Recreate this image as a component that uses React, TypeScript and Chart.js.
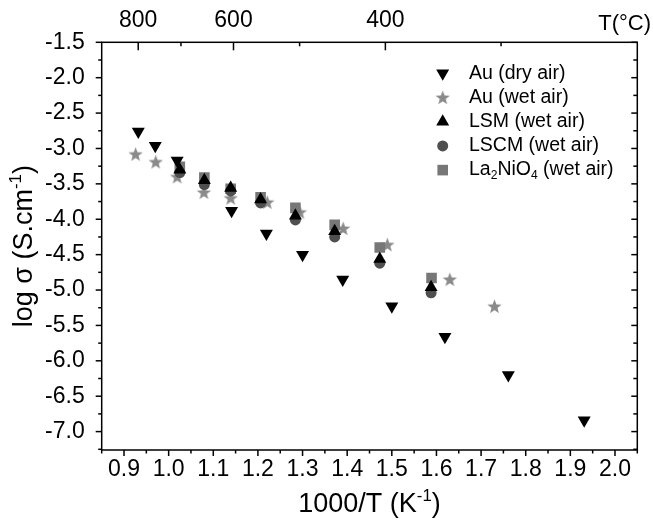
import React, { useEffect, useRef } from 'react';
import { Chart, registerables } from 'chart.js';
Chart.register(...registerables);

// ---- data ----
const auDryX = [0.932, 0.970, 1.019, 1.141, 1.219, 1.300, 1.390, 1.500, 1.619, 1.761, 1.931];
const auDryY = [-2.76, -2.96, -3.17, -3.88, -4.20, -4.50, -4.85, -5.23, -5.66, -6.20, -6.84];
const auWetX = [0.926, 0.971, 1.019, 1.079, 1.139, 1.221, 1.294, 1.391, 1.490, 1.630, 1.730];
const auWetY = [-3.08, -3.19, -3.40, -3.62, -3.70, -3.76, -3.90, -4.13, -4.36, -4.85, -5.23];
const lsmX = [1.025, 1.080, 1.139, 1.206, 1.284, 1.372, 1.473, 1.588];
const lsmY = [-3.30, -3.45, -3.56, -3.72, -3.95, -4.17, -4.56, -4.96];
const lscmX = [1.025, 1.080, 1.139, 1.206, 1.284, 1.372, 1.473, 1.588];
const lscmY = [-3.34, -3.51, -3.60, -3.77, -4.01, -4.25, -4.62, -5.04];
const lanoX = [1.025, 1.080, 1.139, 1.206, 1.284, 1.372, 1.473, 1.589];
const lanoY = [-3.26, -3.41, -3.57, -3.69, -3.84, -4.08, -4.40, -4.83];

// ---- ticks ----
const X_MAJOR = [0.9, 1.0, 1.1, 1.2, 1.3, 1.4, 1.5, 1.6, 1.7, 1.8, 1.9, 2.0];
const X_MINOR = [0.85, 0.95, 1.05, 1.15, 1.25, 1.35, 1.45, 1.55, 1.65, 1.75, 1.85, 1.95, 2.05];
const Y_MAJOR = [-1.5, -2.0, -2.5, -3.0, -3.5, -4.0, -4.5, -5.0, -5.5, -6.0, -6.5, -7.0];
const Y_MINOR = [-1.75, -2.25, -2.75, -3.25, -3.75, -4.25, -4.75, -5.25, -5.75, -6.25, -6.75, -7.25];
const T_MAJOR = [800, 600, 400];
const T_MINOR = [700, 500, 300];

const X_MIN = 0.85, X_MAX = 2.05, Y_MIN = -7.26, Y_MAX = -1.5;
const FONT = '"Liberation Sans", Arial, Helvetica, sans-serif';
const toInvT = (t: number) => 1000 / (t + 273.15);

const STAR_COLOR = '#8a8a8a';
const SQUARE_COLOR = '#777777';
const CIRCLE_COLOR = '#4f4f4f';

function makeStar(color: string, outer: number) {
  const size = Math.ceil(outer * 2 + 2);
  const c = document.createElement('canvas');
  c.width = size; c.height = size;
  const g = c.getContext('2d')!;
  const cx = size / 2, cy = size / 2 + 0.6;
  const inner = outer * 0.42;
  g.beginPath();
  for (let i = 0; i < 10; i++) {
    const r = i % 2 === 0 ? outer : inner;
    const a = -Math.PI / 2 + (i * Math.PI) / 5;
    const px = cx + r * Math.cos(a), py = cy + r * Math.sin(a);
    if (i === 0) g.moveTo(px, py); else g.lineTo(px, py);
  }
  g.closePath();
  g.fillStyle = color;
  g.fill();
  return c;
}

type Seg = { t: string; sub?: boolean; sup?: boolean };
function drawRich(ctx: CanvasRenderingContext2D, segs: Seg[], x: number, y: number, size: number, align: 'left' | 'center' | 'right') {
  const small = size * 0.62;
  let total = 0;
  for (const s of segs) {
    ctx.font = `${s.sub || s.sup ? small : size}px ${FONT}`;
    total += ctx.measureText(s.t).width;
  }
  let cx = align === 'left' ? x : align === 'center' ? x - total / 2 : x - total;
  ctx.textAlign = 'left';
  for (const s of segs) {
    ctx.font = `${s.sub || s.sup ? small : size}px ${FONT}`;
    const dy = s.sub ? size * 0.3 : s.sup ? -size * 0.42 : 0;
    ctx.fillText(s.t, cx, y + dy);
    cx += ctx.measureText(s.t).width;
  }
}

const LEGEND: { label: Seg[]; style: string }[] = [
  { label: [{ t: 'Au (dry air)' }], style: 'down' },
  { label: [{ t: 'Au (wet air)' }], style: 'star' },
  { label: [{ t: 'LSM (wet air)' }], style: 'up' },
  { label: [{ t: 'LSCM (wet air)' }], style: 'circle' },
  { label: [{ t: 'La' }, { t: '2', sub: true }, { t: 'NiO' }, { t: '4', sub: true }, { t: ' (wet air)' }], style: 'square' },
];

function drawMarker(ctx: CanvasRenderingContext2D, style: string, x: number, y: number, star: HTMLCanvasElement) {
  ctx.beginPath();
  if (style === 'down' || style === 'up') {
    const r = 7.5;
    const s = style === 'down' ? -1 : 1;
    ctx.moveTo(x, y - s * r);
    ctx.lineTo(x + r * Math.sin((2 * Math.PI) / 3), y + s * r / 2);
    ctx.lineTo(x - r * Math.sin((2 * Math.PI) / 3), y + s * r / 2);
    ctx.closePath();
    ctx.fillStyle = '#000';
    ctx.fill();
  } else if (style === 'circle') {
    ctx.arc(x, y, 5.5, 0, Math.PI * 2);
    ctx.fillStyle = CIRCLE_COLOR;
    ctx.fill();
  } else if (style === 'square') {
    ctx.rect(x - 5.3, y - 5.3, 10.6, 10.6);
    ctx.fillStyle = SQUARE_COLOR;
    ctx.fill();
  } else if (style === 'star') {
    ctx.drawImage(star, x - star.width / 2, y - star.height / 2);
  }
}

export default function App() {
  const ref = useRef<HTMLCanvasElement | null>(null);

  useEffect(() => {
    if (!ref.current) return;
    const star = makeStar(STAR_COLOR, 7.5);

    const decor = {
      id: 'decor',
      afterDraw(chart: any) {
        const { ctx, chartArea: a, scales } = chart;
        const sx = scales.x, sy = scales.y;
        ctx.save();
        ctx.strokeStyle = '#000';
        ctx.lineWidth = 1.5;
        ctx.strokeRect(a.left, a.top, a.right - a.left, a.bottom - a.top);
        const line = (x1: number, y1: number, x2: number, y2: number) => {
          ctx.beginPath(); ctx.moveTo(x1, y1); ctx.lineTo(x2, y2); ctx.stroke();
        };
        X_MAJOR.forEach(v => { const p = sx.getPixelForValue(v); line(p, a.bottom, p, a.bottom + 6); });
        X_MINOR.forEach(v => { const p = sx.getPixelForValue(v); line(p, a.bottom, p, a.bottom + 3.5); });
        Y_MAJOR.forEach(v => { const p = sy.getPixelForValue(v); line(a.left - 6, p, a.left, p); line(a.right - 6, p, a.right, p); });
        Y_MINOR.forEach(v => { const p = sy.getPixelForValue(v); line(a.left - 3.5, p, a.left, p); line(a.right - 4, p, a.right, p); });
        T_MAJOR.forEach(t => { const p = sx.getPixelForValue(toInvT(t)); line(p, a.top, p, a.top + 8); });
        T_MINOR.forEach(t => { const p = sx.getPixelForValue(toInvT(t)); line(p, a.top, p, a.top + 4); });

        ctx.fillStyle = '#000';
        ctx.textBaseline = 'alphabetic';
        // top-right unit label
        drawRich(ctx, [{ t: 'T(°C)' }], 651, 30, 22, 'right');
        // x title
        drawRich(ctx, [{ t: '1000/T (K' }, { t: '-1', sup: true }, { t: ')' }], (a.left + a.right) / 2, 512, 27, 'center');
        // y title
        ctx.save();
        ctx.translate(32, (a.top + a.bottom) / 2);
        ctx.rotate(-Math.PI / 2);
        drawRich(ctx, [{ t: 'log σ (S.cm' }, { t: '-1', sup: true }, { t: ')' }], 0, 0, 27, 'center');
        ctx.restore();

        // legend
        const lx = 442.7, tx = 469, y0 = 73.3, dy = 24.2;
        LEGEND.forEach((item, i) => {
          const yy = y0 + i * dy;
          drawMarker(ctx, item.style, lx, yy, star);
          ctx.fillStyle = '#000';
          ctx.textBaseline = 'middle';
          drawRich(ctx, item.label, tx, yy, 19.5, 'left');
        });
        ctx.restore();
      },
    };

    const pts = (xs: number[], ys: number[]) => xs.map((x, i) => ({ x, y: ys[i] }));
    const tickFont = { family: FONT, size: 23 };

    const chart = new Chart(ref.current, {
      type: 'scatter',
      data: {
        datasets: [
          { label: 'Au (dry air)', data: pts(auDryX, auDryY), pointStyle: 'triangle', rotation: 180, radius: 7.5, backgroundColor: '#000', borderWidth: 0, order: 1 },
          { label: 'Au (wet air)', data: pts(auWetX, auWetY), pointStyle: star as any, radius: 7.5, backgroundColor: STAR_COLOR, borderWidth: 0, order: 5 },
          { label: 'LSM (wet air)', data: pts(lsmX, lsmY), pointStyle: 'triangle', radius: 7.5, backgroundColor: '#000', borderWidth: 0, order: 2 },
          { label: 'LSCM (wet air)', data: pts(lscmX, lscmY), pointStyle: 'circle', radius: 5.5, backgroundColor: CIRCLE_COLOR, borderWidth: 0, order: 3 },
          { label: 'La2NiO4 (wet air)', data: pts(lanoX, lanoY), pointStyle: 'rect', radius: 7.5, backgroundColor: SQUARE_COLOR, borderWidth: 0, order: 4 },
        ] as any,
      },
      options: {
        animation: false,
        responsive: false,
        devicePixelRatio: 1,
        layout: { padding: { left: 0, right: 15.7, top: 0, bottom: 0 } },
        plugins: { legend: { display: false }, tooltip: { enabled: false } },
        scales: {
          x: {
            type: 'linear', position: 'bottom', min: X_MIN, max: X_MAX,
            afterBuildTicks: (s: any) => { s.ticks = X_MAJOR.map(v => ({ value: v })); },
            afterFit: (s: any) => { s.height = 71; },
            ticks: { font: tickFont, color: '#000', padding: 6, maxRotation: 0, autoSkip: false, callback: (v: any) => Number(v).toFixed(1) },
            grid: { display: false, drawTicks: false }, border: { display: false },
          },
          x2: {
            type: 'linear', position: 'top', min: X_MIN, max: X_MAX,
            afterBuildTicks: (s: any) => { s.ticks = T_MAJOR.map(t => ({ value: toInvT(t) })); },
            afterFit: (s: any) => { s.height = 42.3; },
            ticks: { font: tickFont, color: '#000', padding: 8, maxRotation: 0, autoSkip: false, callback: (_v: any, i: number) => String(T_MAJOR[i]) },
            grid: { display: false, drawTicks: false }, border: { display: false },
          },
          y: {
            type: 'linear', position: 'left', min: Y_MIN, max: Y_MAX,
            afterBuildTicks: (s: any) => { s.ticks = Y_MAJOR.map(v => ({ value: v })); },
            afterFit: (s: any) => { s.width = 101.7; },
            ticks: { font: tickFont, color: '#000', padding: 17, autoSkip: false, callback: (v: any) => Number(v).toFixed(1) },
            grid: { display: false, drawTicks: false }, border: { display: false },
          },
        },
      } as any,
      plugins: [decor],
    });
    return () => chart.destroy();
  }, []);

  return (
    <div style={{ position: 'fixed', left: 0, top: 0, width: 653, height: 521, background: '#fff' }}>
      <canvas ref={ref} width={653} height={521} style={{ width: 653, height: 521, display: 'block' }} />
    </div>
  );
}
